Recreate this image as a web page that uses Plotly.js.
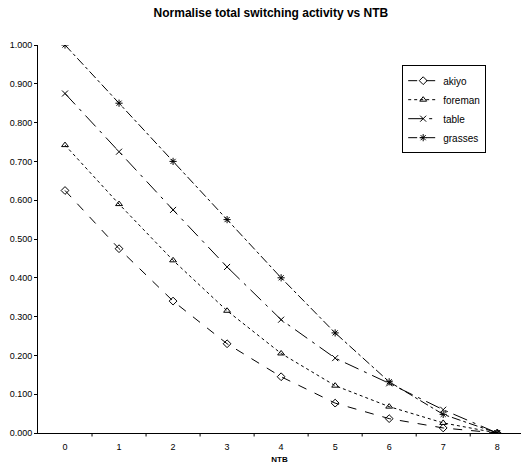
<!DOCTYPE html>
<html><head><meta charset="utf-8">
<script src="https://cdn.plot.ly/plotly-3.0.1.min.js"></script>
<style>html,body{margin:0;padding:0;background:#fff;overflow:hidden}</style>
</head><body>
<div id="chart" style="width:521px;height:468px"></div>
<script>
const ntb = [0, 1, 2, 3, 4, 5, 6, 7, 8];
const akiyo   = [0.625, 0.475, 0.340, 0.230, 0.145, 0.077, 0.037, 0.013, 0.000];
const foreman = [0.742, 0.590, 0.445, 0.315, 0.205, 0.122, 0.068, 0.026, 0.000];
const table   = [0.875, 0.725, 0.575, 0.428, 0.292, 0.193, 0.128, 0.060, 0.000];
const grasses = [1.000, 0.850, 0.700, 0.550, 0.400, 0.258, 0.132, 0.048, 0.000];
const yTicks = [0, 0.1, 0.2, 0.3, 0.4, 0.5, 0.6, 0.7, 0.8, 0.9, 1.0];

function tr(name, y, dash, sym) {
  return {x: ntb, y: y, name: name, type: 'scatter', mode: 'lines+markers',
    line: {color: '#000', width: 1, dash: dash},
    marker: {symbol: sym, size: 6, color: '#000', line: {color: '#000', width: 1}}};
}
const data = [
  tr('akiyo', akiyo, 'dash', 'diamond-open'),
  tr('foreman', foreman, 'dot', 'triangle-up-open'),
  tr('table', table, 'longdashdot', 'x-thin-open'),
  tr('grasses', grasses, 'dashdot', 'asterisk-open')
];
const layout = {
  width: 521, height: 468,
  margin: {l: 38, r: 0, t: 45, b: 35},
  paper_bgcolor: '#fff', plot_bgcolor: '#fff',
  font: {family: 'Liberation Sans, Arial, sans-serif', color: '#000', size: 9},
  title: {text: '<b>Normalise total switching activity vs NTB</b>', x: 0.52, xanchor: 'center', y: 0.972, yanchor: 'middle',
    font: {size: 12, family: 'Liberation Sans, Arial, sans-serif', color: '#000'}},
  xaxis: {range: [-0.5, 8.44], tickmode: 'array', tickvals: ntb, ticktext: ntb.map(String),
    showgrid: false, zeroline: false, showline: true, linecolor: '#000', linewidth: 1,
    ticks: '', tickfont: {size: 9}, ticklabelstandoff: 5,
    title: {text: '<b>NTB</b>', font: {size: 8}, standoff: 5}},
  yaxis: {range: [0, 1], tickmode: 'array', tickvals: yTicks, ticktext: yTicks.map(v => v.toFixed(3)),
    showgrid: false, zeroline: false, showline: true, linecolor: '#000', linewidth: 1,
    ticks: 'outside', ticklen: 3, tickcolor: '#000', tickfont: {size: 9}},
  shapes: [0.5, 1.5, 2.5, 3.5, 4.5, 5.5, 6.5, 7.5].map(v => ({type: 'line', xref: 'x', yref: 'paper',
    x0: v, x1: v, y0: 0, y1: -0.009, line: {color: '#000', width: 1}})),
  legend: {x: 0.754, y: 0.948, xanchor: 'left', yanchor: 'top', bgcolor: '#fff',
    bordercolor: '#000', borderwidth: 1, font: {size: 10}, tracegroupgap: 0, itemwidth: 30}
};
Plotly.newPlot('chart', data, layout, {displayModeBar: false, staticPlot: true});
</script>
</body></html>
